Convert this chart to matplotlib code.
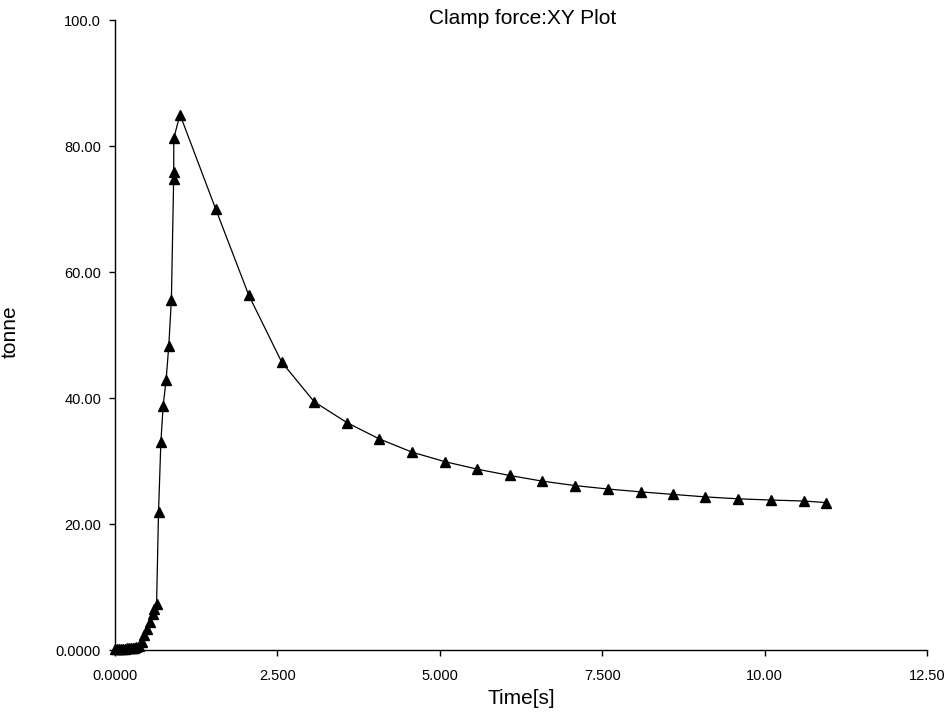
import matplotlib
matplotlib.use("Agg")
import matplotlib.pyplot as plt
from matplotlib.ticker import FixedLocator, FixedFormatter

plt.rcParams['font.family'] = ['Liberation Sans', 'DejaVu Sans']

# Data
time_s = [0.00, 0.03, 0.06, 0.09, 0.12, 0.15, 0.18, 0.21, 0.24, 0.27, 0.30, 0.33,
          0.373, 0.41, 0.45, 0.50, 0.537, 0.578, 0.60, 0.64,
          0.67, 0.706, 0.741, 0.787, 0.828, 0.868, 0.903, 0.904, 0.905, 1.00,
          1.55, 2.06, 2.566, 3.067, 3.569, 4.069, 4.575, 5.077, 5.578, 6.078,
          6.58, 7.08, 7.59, 8.09, 8.59, 9.09, 9.59, 10.10, 10.60, 10.94]
force_t = [0.2, 0.2, 0.2, 0.2, 0.2, 0.2, 0.25, 0.25, 0.3, 0.3, 0.35, 0.4,
           0.6, 1.3, 2.4, 3.4, 4.5, 5.7, 6.5, 7.3,
           21.9, 33.0, 38.7, 42.9, 48.3, 55.6, 74.8, 75.9, 81.2, 85.0,
           70.0, 56.3, 45.7, 39.4, 36.1, 33.5, 31.4, 29.9, 28.7, 27.7,
           26.8, 26.1, 25.55, 25.1, 24.7, 24.3, 24.0, 23.8, 23.65, 23.4]

x_ticks = [0.0, 2.5, 5.0, 7.5, 10.0, 12.5]
x_tick_labels = ["0.0000", "2.500", "5.000", "7.500", "10.00", "12.50"]
y_ticks = [0, 20, 40, 60, 80, 100]
y_tick_labels = ["0.0000", "20.00", "40.00", "60.00", "80.00", "100.0"]

W, H = 947, 713
fig = plt.figure(figsize=(W / 100, H / 100), dpi=100)
left, right, top, bottom = 115, 927, 20, 650
ax = fig.add_axes([left / W, (H - bottom) / H, (right - left) / W, (bottom - top) / H])

ax.plot(time_s, force_t, color='black', linewidth=0.9, marker='^',
        markersize=7.5, markerfacecolor='black', markeredgecolor='black',
        clip_on=False)

ax.set_xlim(0, 12.5)
ax.set_ylim(0, 100)
ax.xaxis.set_major_locator(FixedLocator(x_ticks))
ax.xaxis.set_major_formatter(FixedFormatter(x_tick_labels))
ax.yaxis.set_major_locator(FixedLocator(y_ticks))
ax.yaxis.set_major_formatter(FixedFormatter(y_tick_labels))

for s in ['top', 'right']:
    ax.spines[s].set_visible(False)
for s in ['left', 'bottom']:
    ax.spines[s].set_linewidth(1.0)
    ax.spines[s].set_color('black')

ax.tick_params(axis='both', direction='out', length=4, width=1.0,
               labelsize=10.5, colors='black')
ax.tick_params(axis='x', pad=10)
ax.tick_params(axis='y', pad=6)

ax.set_xlabel("Time[s]", fontsize=15, labelpad=4)
ax.set_ylabel("tonne", fontsize=15)
ax.yaxis.set_label_coords((20 - left) / (right - left), (bottom - 332) / (bottom - top))
fig.text(522.5 / W, 1 - 18 / H, "Clamp force:XY Plot", ha='center', va='center',
         fontsize=15)

fig.savefig("out.png", dpi=100, facecolor='white')
